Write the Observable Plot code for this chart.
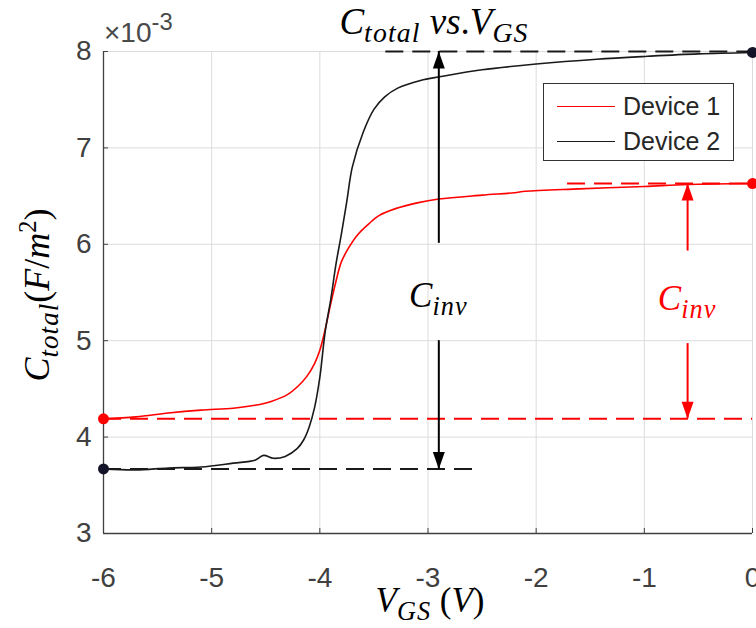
<!DOCTYPE html>
<html>
<head>
<meta charset="utf-8">
<script src="https://cdn.jsdelivr.net/npm/d3@7"></script>
<script src="https://cdn.jsdelivr.net/npm/@observablehq/plot@0.6"></script>
<style>
  body { margin: 0; background: #fff; }
  #wrap { position: relative; width: 756px; height: 628px; overflow: hidden; font-family: "Liberation Sans", Arial, sans-serif; }
  #wrap svg { display: block; position: absolute; left: 0; top: 0; }
  .math { position: absolute; font-family: "Liberation Serif", "DejaVu Serif", serif; font-style: italic; white-space: nowrap; line-height: 1; }
  .math sub { font-size: 0.75em; vertical-align: -0.32em; line-height: 0; letter-spacing: 0.04em; }
  .math sup { font-size: 0.68em; vertical-align: 0.55em; line-height: 0; }
  .up { font-style: normal; }
  .legend { position: absolute; left: 543px; top: 83px; width: 191px; height: 78px; border: 1.5px solid #333; background: #fff; box-sizing: border-box; }
  .legend .row { position: absolute; left: 0; height: 30px; display: flex; align-items: center; }
  .legend .sw { width: 58px; height: 0; border-top: 1.6px solid; margin-left: 13px; margin-right: 8px; }
  .legend .lb { font-size: 25px; color: #262626; font-family: "Liberation Sans", Arial, sans-serif; }
  .exp { position: absolute; left: 104px; top: 19px; font-size: 28px; color: #4a4a4a; font-family: "Liberation Sans", Arial, sans-serif; line-height: 1; }
  .exp sup { font-size: 0.85em; vertical-align: 0.5em; line-height: 0; }
</style>
</head>
<body>
<div id="wrap"></div>
<script>
// ---- data (values in units of 1e-3 F/m^2) ----
const vgsDevice1 = [-6, -5.7, -5.4, -5.1, -4.8, -4.6, -4.45, -4.3, -4.2, -4.12, -4.05, -4.0, -3.95, -3.9, -3.85, -3.8, -3.73, -3.65, -3.55, -3.45, -3.3, -3.1, -2.9, -2.5, -2.2, -2.1, -1.6, -1.0, -0.6, 0];
const cDevice1   = [4.19, 4.21, 4.25, 4.28, 4.30, 4.33, 4.37, 4.44, 4.53, 4.63, 4.76, 4.90, 5.12, 5.38, 5.62, 5.82, 5.97, 6.10, 6.21, 6.30, 6.37, 6.43, 6.47, 6.51, 6.535, 6.55, 6.575, 6.60, 6.62, 6.63];
const vgsDevice2 = [-6, -5.7, -5.4, -5.1, -4.8, -4.6, -4.52, -4.43, -4.32, -4.21, -4.15, -4.10, -4.05, -4.0, -3.95, -3.9, -3.85, -3.8, -3.75, -3.7, -3.6, -3.5, -3.4, -3.28, -3.07, -2.88, -2.5, -2.0, -1.44, -0.97, -0.5, 0];
const cDevice2   = [3.67, 3.66, 3.68, 3.69, 3.73, 3.76, 3.81, 3.78, 3.80, 3.88, 3.97, 4.10, 4.30, 4.62, 5.10, 5.42, 5.80, 6.11, 6.45, 6.80, 7.16, 7.40, 7.53, 7.62, 7.70, 7.74, 7.81, 7.87, 7.92, 7.95, 7.975, 7.99];
const seriesNames  = ["Device 1", "Device 2"];
const seriesColors = ["#ff0000", "#1a1a1a"];
const xTicks = [-6, -5, -4, -3, -2, -1, 0];
const yTicks = [3, 4, 5, 6, 7, 8];

// annotation values
const dashX1 = [-3.39, -6, -1.71, -6];
const dashX2 = [0, -2.56, 0, 0];
const dashY  = [8.0, 3.67, 6.63, 4.19];
const dashColor = ["#1a1a1a", "#1a1a1a", "#ff0000", "#ff0000"];
const arrowX  = [-2.9, -2.9, -0.6, -0.6];
const arrowFrom = [6.01, 5.0, 5.93, 4.97];
const arrowTo   = [8.0, 3.67, 6.63, 4.19];
const arrowColor = ["#000000", "#000000", "#ff0000", "#ff0000"];
const endX = [-6, 0, -6, 0];
const endY = [4.19, 6.63, 3.67, 7.99];
const endColor = ["#ff0000", "#ff0000", "#141428", "#141428"];
const invLabelX = [-2.9, -0.6];
const invLabelY = [5.47, 5.44];
const invLabelColor = ["#000000", "#ff0000"];

// ---- build tables ----
const lineData = [
  ...vgsDevice1.map((x, i) => ({x, y: cDevice1[i], s: seriesNames[0]})),
  ...vgsDevice2.map((x, i) => ({x, y: cDevice2[i], s: seriesNames[1]}))
];
const dashes = dashY.map((y, i) => ({x1: dashX1[i], x2: dashX2[i], y, c: dashColor[i]}));
const arrows = arrowX.map((x, i) => ({x, y1: arrowFrom[i], y2: arrowTo[i], c: arrowColor[i], rot: arrowTo[i] > arrowFrom[i] ? 0 : 180}));
const ends = endX.map((x, i) => ({x, y: endY[i], c: endColor[i]}));

const arrowHead = {
  draw(ctx) { const w = 6, h = 17; ctx.moveTo(0, 0); ctx.lineTo(w, h); ctx.lineTo(-w, h); ctx.closePath(); }
};

const plot = Plot.plot({
  width: 756, height: 628,
  marginTop: 51, marginBottom: 95, marginLeft: 103, marginRight: 4,
  x: {domain: [-6, 0], label: null},
  y: {domain: [3, 8], label: null},
  color: {type: "identity"},
  style: {fontFamily: "Liberation Sans, Arial, sans-serif", background: "transparent", overflow: "visible"},
  marks: [
    Plot.gridX(xTicks, {stroke: "#dcdcdc", strokeOpacity: 1}),
    Plot.gridY(yTicks, {stroke: "#dcdcdc", strokeOpacity: 1}),
    Plot.ruleY(dashes, {y: "y", x1: "x1", x2: "x2", stroke: "c", strokeWidth: 2, strokeDasharray: "18,9"}),
    Plot.line(lineData, {x: "x", y: "y", z: "s", stroke: d => seriesColors[seriesNames.indexOf(d.s)], strokeWidth: 1.6, curve: "catmull-rom"}),
    Plot.ruleX(arrows, {x: "x", y1: "y1", y2: "y2", stroke: "c", strokeWidth: 2}),
    Plot.dot(arrows, {x: "x", y: "y2", symbol: arrowHead, fill: "c", stroke: null, rotate: "rot", r: 5}),
    Plot.ruleX([-6], {stroke: "#404040", strokeWidth: 1.3}),
    Plot.ruleY([3], {stroke: "#404040", strokeWidth: 1.3}),
    Plot.axisX(xTicks, {tickSize: -5, fill: "none", stroke: "#404040", label: null}),
    Plot.axisY(yTicks, {tickSize: -5, fill: "none", stroke: "#404040", label: null}),
    Plot.axisX(xTicks, {tickSize: 0, tickPadding: 34, fontSize: 28, fill: "#404040", tickFormat: d => String(d), label: null}),
    Plot.axisY(yTicks, {tickSize: 0, tickPadding: 12, fontSize: 28, fill: "#404040", tickFormat: d => String(d), label: null}),
    Plot.dot(ends, {x: "x", y: "y", r: 5.5, fill: "c", stroke: null})
  ]
});

const wrap = document.getElementById("wrap");
wrap.appendChild(plot);
const sx = plot.scale("x"), sy = plot.scale("y");

function addDiv(cls, html, style) {
  const d = document.createElement("div");
  d.className = cls; d.innerHTML = html;
  Object.assign(d.style, style);
  wrap.appendChild(d);
  return d;
}

// C_inv labels anchored on data
invLabelX.forEach((x, i) => {
  addDiv("math", "C<sub>inv</sub>", {
    left: sx.apply(x) + "px", top: sy.apply(invLabelY[i]) + "px",
    transform: "translate(-50%,-50%)", fontSize: "35px", color: invLabelColor[i]
  });
});

// title, axis titles, exponent
addDiv("math", 'C<sub>total</sub> vs<span class="up">.</span>V<sub>GS</sub>', {
  left: "434px", top: "21px", transform: "translate(-50%,-50%)", fontSize: "37px", color: "#000"
});
addDiv("math", 'V<sub>GS</sub> <span class="up">(</span>V<span class="up">)</span>', {
  left: "430px", top: "600px", transform: "translate(-50%,-50%)", fontSize: "35px", color: "#000"
});
addDiv("math", 'C<sub>total</sub><span class="up">(</span>F<span class="up">/</span>m<sup class="up">2</sup><span class="up">)</span>', {
  left: "37px", top: "295px", transform: "translate(-50%,-50%) rotate(-90deg)", fontSize: "36px", color: "#000"
});
addDiv("exp", "×10<sup>-3</sup>", {});

// legend
const lg = addDiv("legend", "", {});
seriesNames.forEach((name, i) => {
  const row = document.createElement("div");
  row.className = "row";
  row.style.top = (7 + i * 35) + "px";
  row.innerHTML = `<div class="sw" style="border-color:${seriesColors[i]}"></div><div class="lb">${name}</div>`;
  lg.appendChild(row);
});
</script>
</body>
</html>
